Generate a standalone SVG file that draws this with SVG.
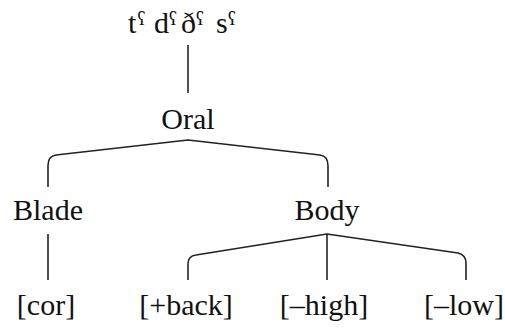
<svg xmlns="http://www.w3.org/2000/svg" width="505" height="328" viewBox="0 0 505 328">
<style>
text{font-family:"Liberation Serif","DejaVu Serif",serif;font-size:30px;fill:#111;text-anchor:middle}
text.r{font-size:30px;text-anchor:start}
tspan.s{font-size:18px}
.c{fill:none;stroke:#222;stroke-width:1.6;stroke-linejoin:round;stroke-linecap:butt}
</style>
<rect width="505" height="328" fill="#fff"/>
<g id="connectors">
<path class="c" d="M188,45 V93"/>
<path class="c" d="M48,187 V166 Q48,156 56,155 L188,140 L320,155 Q328,156 328,166 V187"/>
<path class="c" d="M48,234 V280"/>
<path class="c" d="M188,280 V264 Q188,256 196,255 L327,234 L458,253 Q466,255 466,263 V280"/>
<path class="c" d="M327,234 V280"/>
</g>
<g id="root"><text class="r"><tspan x="128" y="33">t</tspan><tspan class="s" x="137.5" y="25">ʕ</tspan><tspan x="154" y="33">d</tspan><tspan class="s" x="169" y="25">ʕ</tspan><tspan x="181" y="33">ð</tspan><tspan class="s" x="196" y="25">ʕ</tspan><tspan x="216" y="33">s</tspan><tspan class="s" x="228" y="25">ʕ</tspan></text></g>
<g id="oral"><text x="188" y="129">Oral</text></g>
<g id="blade"><text x="48" y="220">Blade</text></g>
<g id="body"><text x="327" y="220">Body</text></g>
<g id="cor"><text x="46" y="315">[cor]</text></g>
<g id="back"><text x="186" y="315">[+back]</text></g>
<g id="high"><text x="324" y="315">[–high]</text></g>
<g id="low"><text x="464" y="315">[–low]</text></g>
</svg>
